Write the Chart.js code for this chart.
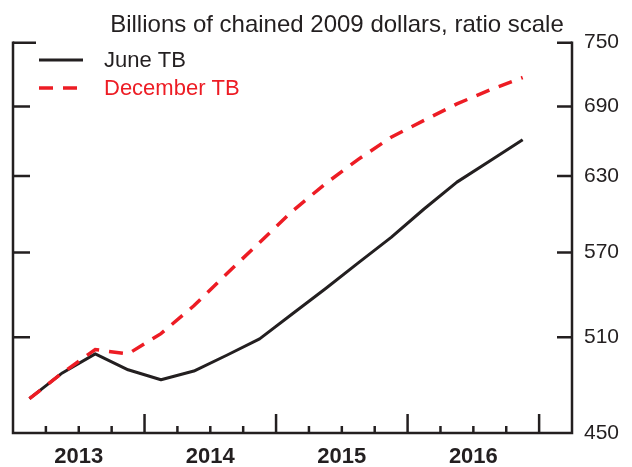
<!DOCTYPE html>
<html>
<head>
<meta charset="utf-8">
<script src="https://cdn.jsdelivr.net/npm/chart.js@4/dist/chart.umd.min.js"></script>
<style>
  html, body { margin: 0; padding: 0; background: #ffffff; }
  #wrap { width: 632px; height: 467px; position: relative; }
</style>
</head>
<body>
<div id="wrap"><canvas id="c" width="632" height="467"></canvas></div>
<script>
// ---- data ----
const quarters = ['2013Q1','2013Q2','2013Q3','2013Q4','2014Q1','2014Q2','2014Q3','2014Q4',
                  '2015Q1','2015Q2','2015Q3','2015Q4','2016Q1','2016Q2','2016Q3','2016Q4'];
const juneTB = [470.7, 486.8, 499.1, 488.8, 482.5, 488.0, 498.2, 509.0,
                526.0, 543.5, 562.2, 581.3, 603.3, 624.9, 642.5, 660.5];
const decemberTB = [470.7, 486.8, 501.9, 499.1, 512.5, 531.5, 554.3, 577.5,
                    601.7, 623.6, 643.8, 662.7, 677.5, 692.3, 705.0, 716.6];
const yTicks = [450, 510, 570, 630, 690, 750];
const yearLabels = ['2013', '2014', '2015', '2016'];
const seriesNames = ['June TB', 'December TB'];
const titleText = 'Billions of chained 2009 dollars, ratio scale';

const INK = '#231f20';
const RED = '#ed1c24';
const FONT = "'Liberation Sans', Arial, Helvetica, sans-serif";

const toPts = arr => arr.map((v, i) => ({ x: i + 0.5, y: v }));

const framePlugin = {
  id: 'frame',
  beforeDatasetsDraw(chart) {
    const ctx = chart.ctx;
    const a = chart.chartArea;
    const xs = chart.scales.x, ys = chart.scales.y;
    ctx.save();
    ctx.strokeStyle = INK;
    ctx.lineWidth = 2.5;
    ctx.lineCap = 'butt';
    // left, bottom, right axes
    ctx.beginPath();
    ctx.moveTo(a.left, a.top - 1.2);
    ctx.lineTo(a.left, a.bottom);
    ctx.lineTo(a.right, a.bottom);
    ctx.lineTo(a.right, a.top - 1.2);
    ctx.stroke();
    // y ticks, inward on both sides
    yTicks.forEach(v => {
      const py = ys.getPixelForValue(v);
      if (v === yTicks[0]) return;
      const leftLen = (v === yTicks[yTicks.length - 1]) ? 23 : 17;
      ctx.beginPath();
      ctx.moveTo(a.left, py); ctx.lineTo(a.left + leftLen, py);
      ctx.moveTo(a.right, py); ctx.lineTo(a.right - 15, py);
      ctx.stroke();
    });
    // x ticks at quarter boundaries, inward
    for (let q = 1; q <= quarters.length; q++) {
      const px = xs.getPixelForValue(q);
      const len = (q % 4 === 0) ? 19 : 7;
      ctx.beginPath();
      ctx.moveTo(px, a.bottom); ctx.lineTo(px, a.bottom - len);
      ctx.stroke();
    }
    // year labels centered in each year
    ctx.fillStyle = INK;
    ctx.font = 'bold 22px ' + FONT;
    ctx.textAlign = 'center';
    ctx.textBaseline = 'middle';
    yearLabels.forEach((lab, i) => {
      ctx.fillText(lab, xs.getPixelForValue(4 * i + 2), a.bottom + 24);
    });
    ctx.restore();
  },
  afterDraw(chart) {
    const ctx = chart.ctx;
    ctx.save();
    // title
    ctx.fillStyle = INK;
    ctx.font = '24px ' + FONT;
    ctx.textAlign = 'center';
    ctx.textBaseline = 'alphabetic';
    ctx.fillText(titleText, 337, 32);
    // legend
    ctx.font = '22px ' + FONT;
    ctx.textAlign = 'left';
    ctx.textBaseline = 'middle';
    ctx.lineWidth = 3;
    ctx.strokeStyle = INK;
    ctx.beginPath(); ctx.moveTo(39, 60); ctx.lineTo(83, 60); ctx.stroke();
    ctx.fillStyle = INK;
    ctx.fillText(seriesNames[0], 104, 61);
    ctx.strokeStyle = RED;
    ctx.lineWidth = 3.5;
    ctx.setLineDash([14, 10]);
    ctx.beginPath(); ctx.moveTo(39, 88); ctx.lineTo(77, 88); ctx.stroke();
    ctx.setLineDash([]);
    ctx.fillStyle = RED;
    ctx.fillText(seriesNames[1], 104, 89);
    ctx.restore();
  }
};

Chart.defaults.font.family = FONT;

new Chart(document.getElementById('c'), {
  type: 'line',
  data: {
    datasets: [
      {
        label: seriesNames[1],
        data: toPts(decemberTB),
        borderColor: RED,
        borderWidth: 3.5,
        borderDash: [14, 10],
        pointRadius: 0,
        tension: 0,
        fill: false,
        order: 0
      },
      {
        label: seriesNames[0],
        data: toPts(juneTB),
        borderColor: INK,
        borderWidth: 3,
        borderJoinStyle: 'round',
        pointRadius: 0,
        tension: 0,
        fill: false,
        order: 1
      }
    ]
  },
  options: {
    responsive: false,
    animation: false,
    devicePixelRatio: 1,
    layout: { padding: { left: 13, top: 42.7, bottom: 34, right: 0 } },
    plugins: { legend: { display: false }, tooltip: { enabled: false }, title: { display: false } },
    scales: {
      x: {
        type: 'linear',
        min: 0,
        max: quarters.length + 1,
        display: false
      },
      y: {
        type: 'logarithmic',
        position: 'right',
        min: yTicks[0],
        max: yTicks[yTicks.length - 1],
        afterBuildTicks: s => { s.ticks = yTicks.map(v => ({ value: v })); },
        afterFit: s => { s.width = 60; },
        grid: { display: false, drawTicks: false },
        border: { display: false },
        ticks: {
          color: INK,
          padding: 12,
          font: { size: 21 },
          autoSkip: false,
          callback: v => String(v)
        }
      }
    }
  },
  plugins: [framePlugin]
});
</script>
</body>
</html>
